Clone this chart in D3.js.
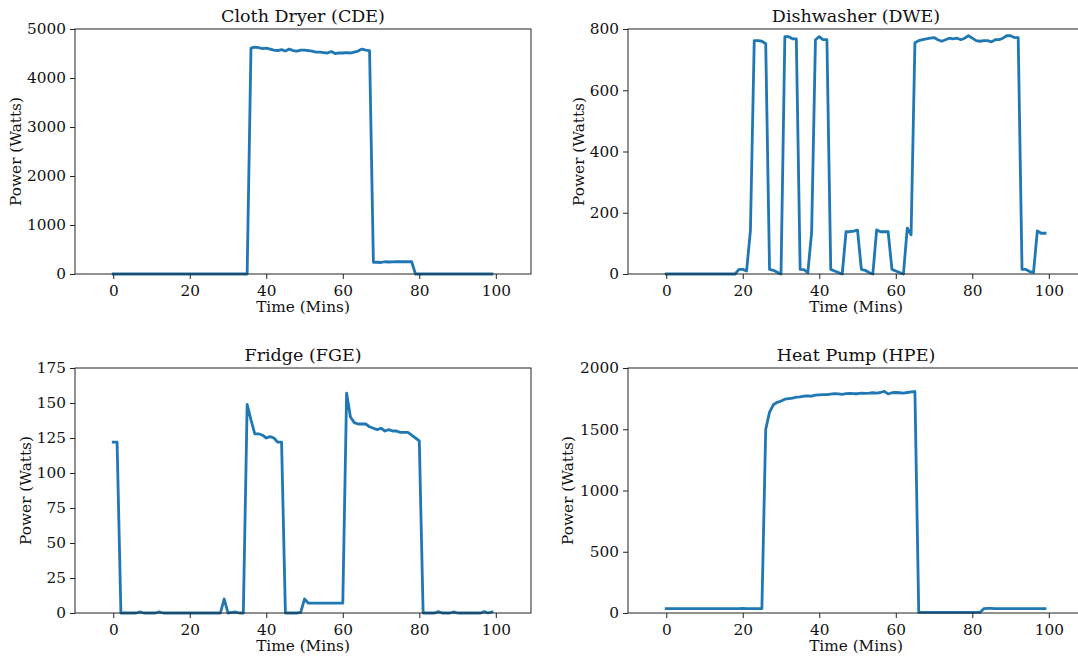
<!DOCTYPE html>
<html>
<head>
<meta charset="utf-8">
<script src="https://cdn.jsdelivr.net/npm/d3@7"></script>
<style>
  html, body { margin: 0; padding: 0; background: #fff; }
  svg text { font-family: "DejaVu Serif", serif; fill: #111; }
  .axis path, .axis line { stroke: #222; stroke-width: 1; }
</style>
</head>
<body>
<svg id="chart" width="1078" height="659"></svg>
<script>
// Time axis (minutes)
const minutes = d3.range(0, 100);

// Appliance power readings, one value per minute (Watts)
const clothDryer = [
  0,0,0,0,0,0,0,0,0,0, 0,0,0,0,0,0,0,0,0,0,
  0,0,0,0,0,0,0,0,0,0, 0,0,0,0,0,0,4610,4630,4620,4600,
  4610,4590,4570,4560,4580,4550,4590,4560,4550,4570,
  4570,4560,4550,4530,4530,4520,4510,4540,4500,4510,
  4510,4520,4510,4530,4550,4590,4570,4560,240,240,
  235,250,245,248,250,250,250,252,250,0,
  0,0,0,0,0,0,0,0,0,0, 0,0,0,0,0,0,0,0,0,0
];

const dishwasher = [
  0,0,0,0,0,0,0,0,0,0, 0,0,0,0,0,0,0,0,0,15,
  15,10,142,762,762,760,752,15,12,6,
  0,775,775,768,768,15,14,4,136,765,
  775,765,765,15,10,5,0,138,138,140,
  143,15,12,5,0,144,138,138,138,15,
  10,5,0,150,128,755,762,765,768,770,
  772,765,760,765,770,768,770,765,770,778,
  770,762,760,762,762,758,765,765,770,778,
  778,772,772,15,15,8,5,141,133,133
];

const fridge = [
  122,122,0,0,0,0,0,0.8,0,0, 0,0,0.8,0,0,0,0,0,0,0,
  0,0,0,0,0,0,0,0,0,10, 0,0.5,0.7,0,0,149,138,128,128,127,
  125,126,125,122,122,0,0,0,0,0.5, 10,7,7,7,7,7,7,7,7,7,
  7,157,140,136,135,135,135,133,132,131, 132,130,131,130,130,129,129,129,127,125,
  123,0,0,0,0,1,0,0,0,0.8, 0,0,0,0,0,0,0,1,0,0.8
];

const heatPump = [
  35,35,35,36,35,35,35,36,36,36, 36,35,36,36,36,36,36,36,36,36,
  37,36,36,36,35,35,1500,1640,1700,1720,
  1730,1745,1750,1755,1762,1765,1770,1772,1770,1778,
  1780,1782,1782,1786,1790,1788,1785,1790,1792,1790,
  1790,1795,1793,1795,1798,1795,1800,1810,1788,1798,
  1800,1798,1795,1800,1805,1808,5,5,5,5,
  5,5,5,5,5,5,5,5,5,5, 5,5,5,35,37,37,36,36,36,36,
  36,36,36,35,36,35,36,36,36,36
];

const titles = ["Cloth Dryer (CDE)", "Dishwasher (DWE)", "Fridge (FGE)", "Heat Pump (HPE)"];
const yTicks = [
  [0, 1000, 2000, 3000, 4000, 5000],
  [0, 200, 400, 600, 800],
  [0, 25, 50, 75, 100, 125, 150, 175],
  [0, 500, 1000, 1500, 2000]
];
const xTicks = [0, 20, 40, 60, 80, 100];
const xLabel = "Time (Mins)";
const yLabel = "Power (Watts)";

const series = [clothDryer, dishwasher, fridge, heatPump];

// Panel frames: top-left corner and y-label position
const panels = [
  { left: 75,  top: 29,  labelX: 21 },
  { left: 628, top: 29,  labelX: 584 },
  { left: 75,  top: 368, labelX: 31 },
  { left: 628, top: 368, labelX: 573 }
];
const W = 456, H = 245;

const svg = d3.select("#chart");

panels.forEach((p, i) => {
  const g = svg.append("g").attr("transform", `translate(${p.left},${p.top})`);
  const ticks = yTicks[i];
  const x = d3.scaleLinear().domain([-10, 109.2]).range([0, W]);
  const y = d3.scaleLinear().domain([0, ticks[ticks.length - 1]]).range([H, 0]);

  // data line
  const line = d3.line().x((d, j) => x(minutes[j])).y(d => y(d));
  g.append("path")
    .datum(series[i])
    .attr("d", line)
    .attr("fill", "none")
    .attr("stroke", "#1f77b4")
    .attr("stroke-width", 2.8)
    .attr("stroke-linejoin", "round")
    .attr("stroke-linecap", "square");

  // frame
  g.append("rect")
    .attr("width", W).attr("height", H)
    .attr("fill", "none").attr("stroke", "#222").attr("stroke-width", 1);

  // axes
  const xa = g.append("g").attr("class", "axis").attr("transform", `translate(0,${H})`)
    .call(d3.axisBottom(x).tickValues(xTicks).tickFormat(d3.format("d")).tickSize(5).tickPadding(4));
  const ya = g.append("g").attr("class", "axis")
    .call(d3.axisLeft(y).tickValues(ticks).tickFormat(d3.format("d")).tickSize(5).tickPadding(4));
  [xa, ya].forEach(a => {
    a.select(".domain").remove();
    a.selectAll("text").style("font-size", "15.3px").style("font-family", "DejaVu Serif").attr("fill", "#111");
  });
  xa.selectAll("text").attr("dy", "0.85em");

  // title
  g.append("text")
    .attr("x", W / 2).attr("y", -7)
    .attr("text-anchor", "middle")
    .style("font-size", "17.5px")
    .text(titles[i]);

  // x label
  g.append("text")
    .attr("x", W / 2).attr("y", H + 38)
    .attr("text-anchor", "middle")
    .style("font-size", "15.3px")
    .text(xLabel);

  // y label
  svg.append("text")
    .attr("transform", `translate(${p.labelX},${p.top + H / 2}) rotate(-90)`)
    .attr("text-anchor", "middle")
    .style("font-size", "15.3px")
    .text(yLabel);
});
</script>
</body>
</html>
